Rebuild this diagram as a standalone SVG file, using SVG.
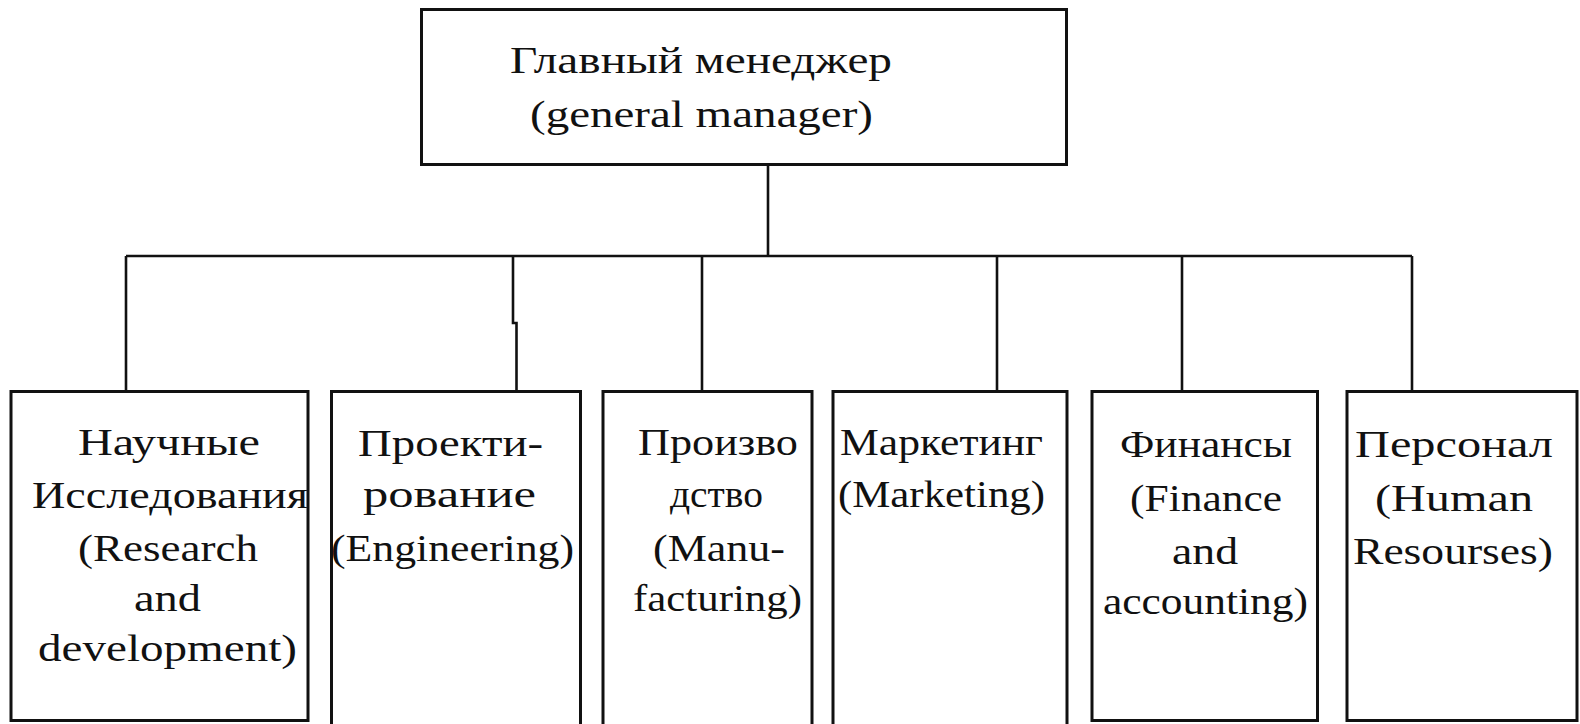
<svg xmlns="http://www.w3.org/2000/svg" width="1580" height="724" viewBox="0 0 1580 724">
<style>
.box{fill:#fff;stroke:#111;stroke-width:3}
.conn{fill:none;stroke:#111;stroke-width:2.6}
.t{font-family:'Liberation Serif','DejaVu Serif',serif;font-size:38px;fill:#111}
</style>
<rect width="1580" height="724" fill="#fff"/>
<g id="connectors">
<path class="conn" d="M768 165 V256"/>
<path class="conn" d="M126 256 H1412"/>
<path class="conn" d="M126 256 V391"/>
<path class="conn" d="M513 256 V323 H516.5 V391"/>
<path class="conn" d="M702 256 V391"/>
<path class="conn" d="M997 256 V391"/>
<path class="conn" d="M1182 256 V391"/>
<path class="conn" d="M1412 256 V391"/>
</g>
<g id="general-manager">
<rect class="box" x="421.5" y="9.5" width="645" height="155"/>
<text class="t" x="510" y="73" textLength="382" lengthAdjust="spacingAndGlyphs">Главный менеджер</text>
<text class="t" x="530" y="127" textLength="343" lengthAdjust="spacingAndGlyphs">(general manager)</text>
</g>
<g id="research">
<rect class="box" x="11" y="391.5" width="297" height="329"/>
<text class="t" x="78" y="455" textLength="182" lengthAdjust="spacingAndGlyphs">Научные</text>
<text class="t" x="32" y="508" textLength="276" lengthAdjust="spacingAndGlyphs">Исследования</text>
<text class="t" x="78" y="561" textLength="180" lengthAdjust="spacingAndGlyphs">(Research</text>
<text class="t" x="134" y="611" textLength="67" lengthAdjust="spacingAndGlyphs">and</text>
<text class="t" x="38" y="661" textLength="259" lengthAdjust="spacingAndGlyphs">development)</text>
</g>
<g id="engineering">
<rect class="box" x="331.5" y="391.5" width="249" height="335"/>
<text class="t" x="358" y="456" textLength="185" lengthAdjust="spacingAndGlyphs">Проекти-</text>
<text class="t" x="363" y="507" textLength="173" lengthAdjust="spacingAndGlyphs">рование</text>
<text class="t" x="331" y="561" textLength="243" lengthAdjust="spacingAndGlyphs">(Engineering)</text>
</g>
<g id="manufacturing">
<rect class="box" x="603" y="391.5" width="209" height="335"/>
<text class="t" x="638" y="455" textLength="160" lengthAdjust="spacingAndGlyphs">Произво</text>
<text class="t" x="670" y="507" textLength="93" lengthAdjust="spacingAndGlyphs">дство</text>
<text class="t" x="653" y="561" textLength="132" lengthAdjust="spacingAndGlyphs">(Manu-</text>
<text class="t" x="633" y="611" textLength="169" lengthAdjust="spacingAndGlyphs">facturing)</text>
</g>
<g id="marketing">
<rect class="box" x="833" y="391.5" width="234" height="335"/>
<text class="t" x="840" y="455" textLength="203" lengthAdjust="spacingAndGlyphs">Маркетинг</text>
<text class="t" x="838" y="507" textLength="207" lengthAdjust="spacingAndGlyphs">(Marketing)</text>
</g>
<g id="finance">
<rect class="box" x="1092" y="391.5" width="225.5" height="329"/>
<text class="t" x="1120" y="457" textLength="172" lengthAdjust="spacingAndGlyphs">Финансы</text>
<text class="t" x="1130" y="511" textLength="152" lengthAdjust="spacingAndGlyphs">(Finance</text>
<text class="t" x="1172" y="564" textLength="66" lengthAdjust="spacingAndGlyphs">and</text>
<text class="t" x="1103" y="614" textLength="205" lengthAdjust="spacingAndGlyphs">accounting)</text>
</g>
<g id="human-resources">
<rect class="box" x="1347" y="391.5" width="230" height="329"/>
<text class="t" x="1355" y="457" textLength="198" lengthAdjust="spacingAndGlyphs">Персонал</text>
<text class="t" x="1375" y="511" textLength="158" lengthAdjust="spacingAndGlyphs">(Human</text>
<text class="t" x="1353" y="564" textLength="200" lengthAdjust="spacingAndGlyphs">Resourses)</text>
</g>
</svg>
